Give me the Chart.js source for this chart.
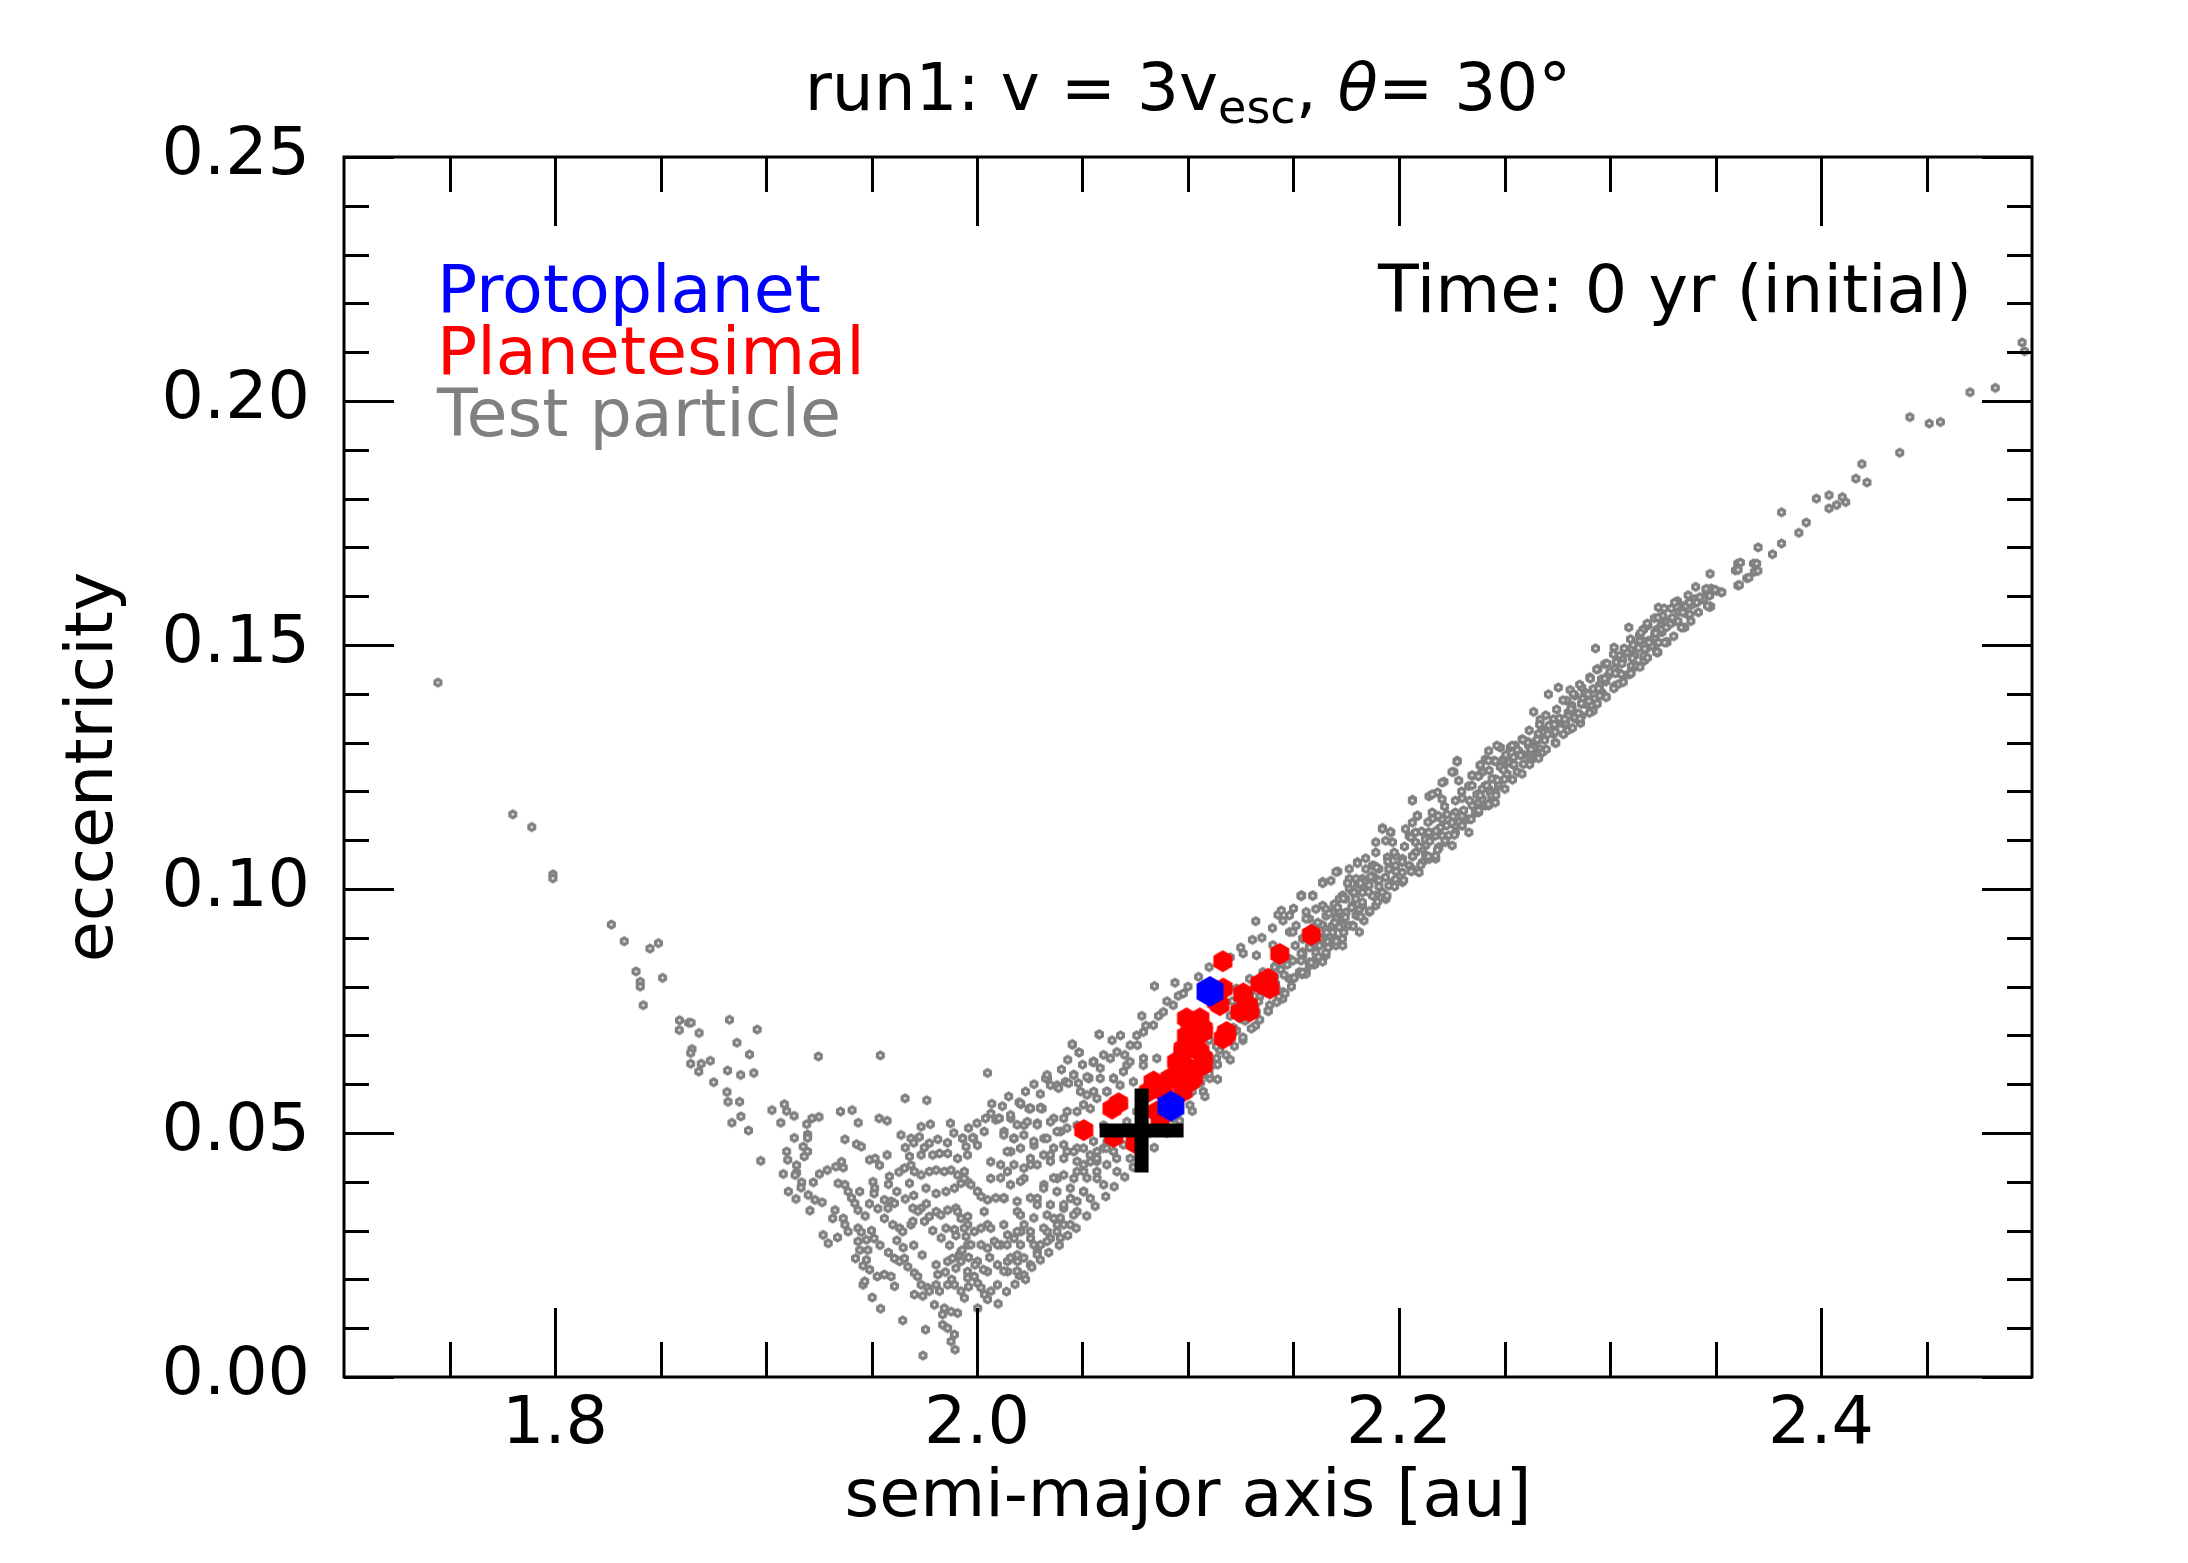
<!DOCTYPE html>
<html>
<head>
<meta charset="utf-8">
<script src="https://cdn.jsdelivr.net/npm/chart.js@4.4.1/dist/chart.umd.min.js"></script>
<style>
  html, body { margin: 0; padding: 0; background: #fff; }
  canvas { display: block; }
</style>
</head>
<body>
<canvas id="orbitChart" width="2188" height="1563"></canvas>
<script>
// semi-major axis [au], eccentricity
const testParticles = [
  [1.7445,0.1423],[1.7800,0.1153],[1.7890,0.1127],[1.7990,0.1030],[1.7990,0.1022],[1.8267,0.0927],[1.8328,0.0893],
  [1.8450,0.0878],[1.8490,0.0889],[1.8384,0.0831],[1.8404,0.0810],[1.8404,0.0800],[1.8510,0.0818],[1.8418,0.0762],
  [1.8590,0.0731],[1.8633,0.0726],[1.8645,0.0726],[1.8589,0.0711],[1.8683,0.0705],[1.8827,0.0732],[1.8958,0.0712],
  [1.8862,0.0685],[1.8649,0.0672],[1.8643,0.0664],[1.8922,0.0661],[1.9248,0.0657],[1.9542,0.0659],[1.8643,0.0642],
  [1.8693,0.0642],[1.8736,0.0648],[1.8681,0.0626],[1.8818,0.0628],[1.8880,0.0619],[1.8942,0.0623],[1.8752,0.0604],
  [1.8815,0.0584],[1.8820,0.0564],[1.8875,0.0564],[1.9028,0.0547],[1.9087,0.0559],[1.9098,0.0545],[1.9133,0.0535],
  [1.8838,0.0521],[1.8881,0.0534],[1.9070,0.0521],[1.9193,0.0518],[1.9218,0.0530],[1.9251,0.0533],[1.9353,0.0544],
  [1.9408,0.0547],[1.9437,0.0521],[1.9536,0.0530],[1.9574,0.0525],
  [2.0050,0.0623],[1.8917,0.0505],[1.8975,0.0443],[1.9197,0.0497],[1.9197,0.0490],[1.9134,0.0490],[1.9176,0.0472],
  [1.9197,0.0462],[1.9181,0.0452],[1.9098,0.0462],[1.9103,0.0445],[1.9145,0.0434],[1.9145,0.0419],[1.9138,0.0414],
  [1.9082,0.0416],[1.9253,0.0416],[1.9290,0.0424],[1.9331,0.0431],[1.9366,0.0429],[1.9358,0.0441],[1.9224,0.0399],
  [1.9169,0.0399],[1.9166,0.0388],[1.9106,0.0380],[1.9142,0.0365],[1.9200,0.0373],[1.9232,0.0363],[1.9266,0.0358],
  [1.9208,0.0341],[1.9342,0.0397],[1.9374,0.0394],[1.9389,0.0380],[1.9405,0.0367],[1.9421,0.0356],[1.9436,0.0342],
  [1.9444,0.0380],[1.9327,0.0342],[1.9316,0.0325],[1.9366,0.0325],[1.9374,0.0312],[1.9389,0.0298],[1.9436,0.0305],
  [1.9452,0.0297],[1.9271,0.0291],[1.9295,0.0274],[1.9339,0.0286],[1.9436,0.0278],[1.9476,0.0281],[1.9512,0.0284],
  [1.9444,0.0260],[1.9483,0.0260],[1.9424,0.0243],[1.9460,0.0228],[1.9374,0.0487],[1.9429,0.0477],[1.9452,0.0472],
  [1.9491,0.0445],[1.9517,0.0448],[1.9538,0.0434],[1.9574,0.0455],[1.9585,0.0411],[1.9507,0.0400],[1.9515,0.0387],
  [1.9512,0.0376],[1.9561,0.0363],[1.9578,0.0346],[1.9561,0.0325],[1.9593,0.0360],[1.9609,0.0356],[1.9601,0.0312],
  [1.9633,0.0305],[1.9648,0.0298],[1.9687,0.0312],[1.9696,0.0319],[1.9476,0.0240],[1.9491,0.0220],[1.9527,0.0206],
  [1.9561,0.0210],[1.9593,0.0206],[1.9609,0.0186],[1.9460,0.0189],[1.9468,0.0196],[1.9503,0.0163],[1.9543,0.0140],
  [1.9648,0.0116],[1.9609,0.0243],[1.9633,0.0237],[1.9656,0.0243],[1.9672,0.0226],[1.9703,0.0213],[1.9719,0.0206],
  [1.9735,0.0189],[1.9766,0.0183],[1.9774,0.0176],[1.9703,0.0169],[1.9743,0.0166],[1.9756,0.0097],[1.9744,0.0044],
  [1.9798,0.0148],[1.9845,0.0141],[1.9837,0.0128],[1.9877,0.0134],[1.9908,0.0131],[1.9837,0.0107],[1.9861,0.0100],
  [1.9893,0.0087],[1.9877,0.0073],[1.9896,0.0056],[1.9806,0.0230],[1.9814,0.0210],[1.9806,0.0189],[1.9822,0.0176],
  [1.9861,0.0189],[1.9893,0.0189],[1.9924,0.0176],[1.9940,0.0162],[1.9861,0.0237],[1.9884,0.0243],[1.9916,0.0250],
  [1.9924,0.0237],[1.9900,0.0223],[1.9956,0.0203],[1.9987,0.0206],[2.0003,0.0192],[2.0019,0.0183],[2.0035,0.0169],
  [2.0050,0.0159],[2.0003,0.0141],[2.0066,0.0176],[2.0097,0.0189],[1.9948,0.0288],[1.9956,0.0271],[1.9987,0.0298],
  [2.0019,0.0305],[2.0050,0.0312],[2.0019,0.0271],[2.0050,0.0264],[2.0082,0.0278],[2.0113,0.0271],[2.0145,0.0291],
  [2.0176,0.0284],[2.0208,0.0298],[2.0160,0.0243],[2.0192,0.0237],[2.0145,0.0216],[2.0200,0.0208],[1.9656,0.0428],
  [1.9687,0.0434],[1.9703,0.0421],[1.9735,0.0414],[1.9774,0.0421],[1.9806,0.0424],[1.9845,0.0421],[1.9877,0.0424],
  [1.9908,0.0414],[1.9940,0.0421],[1.9956,0.0400],[1.9680,0.0452],[1.9735,0.0455],[1.9790,0.0455],[1.9822,0.0458],
  [1.9861,0.0458],[1.9908,0.0448],[1.9640,0.0496],[1.9687,0.0489],[1.9727,0.0492],[1.9774,0.0479],[1.9814,0.0487],
  [1.9735,0.0513],[1.9779,0.0518],[1.9874,0.0520],[1.9932,0.0489],[1.9948,0.0472],[1.9984,0.0490],[1.9659,0.0571],
  [1.9762,0.0567],[1.9680,0.0397],[1.9758,0.0387],[1.9806,0.0376],[1.9853,0.0380],[1.9893,0.0387],[1.9924,0.0397],
  [1.9971,0.0394],[2.0003,0.0380],[2.0019,0.0370],[2.0050,0.0363],[2.0089,0.0367],[1.9696,0.0346],[1.9735,0.0346],
  [1.9751,0.0319],[1.9774,0.0329],[1.9806,0.0339],[1.9829,0.0332],[1.9861,0.0342],[1.9900,0.0346],[1.9924,0.0325],
  [1.9956,0.0329],[1.9853,0.0305],[1.9893,0.0302],[1.9956,0.0312],[2.0066,0.0540],[2.0089,0.0527],[2.0160,0.0530],
  [2.0208,0.0559],[2.0252,0.0550],[2.0302,0.0552],[2.0334,0.0612],[2.0381,0.0595],[2.0452,0.0681],[2.0483,0.0665],
  [2.0578,0.0702],[2.0554,0.0646],[2.0530,0.0612],
  [2.0451,0.0682],[2.0485,0.0665],[2.0580,0.0702],[2.0550,0.0645],[2.0781,0.0740],[2.0841,0.0801],
  [2.0938,0.0808],[2.1321,0.0934],[2.1426,0.0947],[2.1539,0.0987],[2.1638,0.1014],[2.0954,0.0781],[2.1305,0.0896],
  [2.1261,0.0868],[1.9932,0.0489],[1.9979,0.0490],[2.0105,0.0530],[2.0199,0.0563],[2.0246,0.0550],[2.0309,0.0550],
  [2.0325,0.0612],[2.0380,0.0598],[2.0419,0.0605],[2.0459,0.0619],[2.0529,0.0613],[2.0223,0.0516],[2.0286,0.0520],
  [2.0364,0.0530],[2.0427,0.0544],[2.0490,0.0585],[2.0553,0.0585],[2.0584,0.0612],[2.0632,0.0653],[2.0663,0.0666],
  [2.0726,0.0680],[2.0757,0.0700],[2.0789,0.0707],[2.0836,0.0721],[2.0883,0.0748],[2.0930,0.0762],[2.0978,0.0786],
  [2.0852,0.0653],[2.0789,0.0653],[2.0710,0.0639],[2.0647,0.0612],[2.0616,0.0585],[2.0537,0.0550],[2.0474,0.0516],
  [2.0396,0.0503],[2.0317,0.0489],[2.0270,0.0475],[2.0175,0.0489],[2.0128,0.0503],[2.0002,0.0475],[1.9955,0.0455],
  [2.0034,0.0503],[1.9908,0.0339],[1.9939,0.0305],[1.9971,0.0271],[2.0002,0.0237],[1.9955,0.0216],[2.0034,0.0339],
  [2.0065,0.0305],[2.0097,0.0271],[2.0144,0.0237],[2.0191,0.0216],[2.0128,0.0366],[2.0191,0.0339],[2.0223,0.0312],
  [2.0254,0.0284],[2.0301,0.0271],[2.0333,0.0298],[2.0364,0.0325],[2.0411,0.0346],[2.0443,0.0366],[2.0286,0.0366],
  [2.0317,0.0394],[2.0380,0.0407],[2.0459,0.0407],[2.0506,0.0421],[2.0537,0.0441],[2.0569,0.0462],[2.0616,0.0482],
  [2.0663,0.0503],[2.0710,0.0523],[2.0757,0.0544],[2.0506,0.0380],[2.0569,0.0407],[2.0223,0.0407],[2.0144,0.0421],
  [2.0065,0.0407],[2.0002,0.0380],[1.9939,0.0407],[2.0065,0.0441],[2.0160,0.0462],[2.0254,0.0435],[2.0348,0.0455],
  [2.0427,0.0462],[2.0474,0.0469],[2.0600,0.0516],[2.0632,0.0544],[2.0694,0.0557],[1.9924,0.0257],[2.0050,0.0216],
  [2.0097,0.0230],[2.0191,0.0250],[2.0380,0.0312],[2.0223,0.0209],
  [2.1166,0.0775],[2.1229,0.0796],[2.1292,0.0816],[2.1355,0.0830],[2.1418,0.0844],[2.1481,0.0857],[2.1544,0.0871],
  [2.1607,0.0885],[2.1670,0.0905],[2.1733,0.0926],[2.1796,0.0946],[2.1560,0.0953],[2.1638,0.0966],[2.1717,0.0980],
  [2.1764,0.1001],[2.1481,0.0912],[2.1402,0.0885],[2.1324,0.0864],[2.1638,0.0926],[2.1717,0.0953],[2.1481,0.0816],
  [2.1560,0.0830],[2.1638,0.0851],[2.1245,0.0735],[2.1166,0.0707],[2.1135,0.0653],[2.1103,0.0612],[2.1072,0.0585],
  [2.1009,0.0557],[2.0930,0.0530],[2.0852,0.0503],[2.0789,0.0475],[2.0726,0.0448],[2.0663,0.0421],[2.0600,0.0394],
  [2.0537,0.0366],[2.0474,0.0339],[2.0411,0.0312],[2.0348,0.0284],[2.0286,0.0257],[2.1796,0.1021],[2.1387,0.0762],
  [2.1324,0.0748],[2.1450,0.0789],
  [2.2276,0.1263],[2.2260,0.1240],[2.2213,0.1220],[2.2347,0.1232],[2.2064,0.1183],[2.2142,0.1190],[2.2182,0.1198],
  [2.2088,0.1150],[2.2159,0.1144],[2.2189,0.1086],[2.2111,0.1055],[2.1922,0.1125],[2.1961,0.1116],[2.1710,0.1036],
  [2.1639,0.1014],[2.1536,0.0986],[2.1442,0.0956],[2.1803,0.1055],[2.1843,0.1041],[2.1874,0.1048],[2.1827,0.1021],
  [2.2142,0.1116],[2.2236,0.1110],[2.2268,0.1130],[2.2315,0.1144],[2.2362,0.1157],[2.2394,0.1171],[2.2441,0.1185],
  [2.1497,0.0912],[2.1575,0.0939],[2.1654,0.0959],[2.1733,0.0987],[2.1780,0.0994],[2.1827,0.1007],[2.1890,0.1021],
  [2.1953,0.1041],[2.2016,0.1062],[2.2079,0.1075],[2.2126,0.1089],[2.2205,0.1109],[2.2284,0.1137],[2.2362,0.1171],
  [2.1575,0.0884],[2.1654,0.0912],[2.1733,0.0939],[2.1812,0.0959],[2.1890,0.0987],[2.1969,0.1014],[2.2048,0.1048],
  [2.2126,0.1069],[2.1465,0.0850],[2.1544,0.0864],[2.1623,0.0884],[2.1701,0.0898],[2.1780,0.0925],[2.1859,0.0953],
  [2.1937,0.0980],[2.2016,0.1014],[2.2095,0.1034],[2.2174,0.1062],[2.2252,0.1089],[2.2331,0.1116],[2.1497,0.0816],
  [2.1575,0.0843],[2.1654,0.0864],[2.1418,0.0796],[2.1733,0.0884],[2.1812,0.0912],[2.1449,0.0775],[2.1528,0.0830],
  [2.1607,0.0857],[2.1686,0.0953],[2.1764,0.1021],[2.1890,0.1075],[2.1969,0.1096],[2.2048,0.1109],[2.2425,0.1205],
  [2.2457,0.1225],[2.2394,0.1239],[2.2520,0.1260],[2.2551,0.1294],[2.2614,0.1294],[2.2677,0.1328],[2.1481,0.0946],
  [2.1591,0.0987],
  [2.2378,0.1233],[2.2409,0.1212],[2.2441,0.1226],[2.2393,0.1185],[2.2425,0.1171],[2.2456,0.1199],[2.2362,0.1158],
  [2.2802,0.1362],[2.2834,0.1349],[2.2897,0.1383],[2.2928,0.1390],[2.2960,0.1403],[2.3038,0.1444],[2.3070,0.1437],
  [2.3101,0.1492],[2.3211,0.1519],[2.3243,0.1540],[2.3400,0.1594],[2.3447,0.1598],
  [2.3605,0.1667],[2.3680,0.1667],[2.3594,0.1653],[2.3684,0.1650],[2.3648,0.1637],[2.3606,0.1622],
  [2.3456,0.1613],[2.3480,0.1616],[2.3503,0.1611],[2.3527,0.1608],[2.3472,0.1601],[2.3440,0.1594],[2.3417,0.1590],
  [2.3472,0.1578],[2.3377,0.1587],[2.3349,0.1580],[2.3325,0.1568],[2.3365,0.1563],[2.3341,0.1573],
  [2.3089,0.1536],[2.3159,0.1532],[2.3222,0.1532],[2.3269,0.1549],[2.3309,0.1549],[2.3343,0.1536],[2.3246,0.1526],
  [2.3269,0.1506],[2.3214,0.1515],[2.3182,0.1509],[2.3148,0.1510],[2.3170,0.1492],[2.3227,0.1485],[2.3199,0.1498],
  [2.2931,0.1493],[2.3019,0.1495],[2.3101,0.1492],[2.3117,0.1478],[2.3046,0.1478],[2.3054,0.1464],[2.3101,0.1457],
  [2.3125,0.1457],[2.3161,0.1468],[2.2975,0.1461],[2.2943,0.1451],[2.3022,0.1451],[2.3054,0.1440],[2.3093,0.1440],
  [2.3022,0.1416],[2.2904,0.1434],[2.2959,0.1430],[2.2991,0.1437],
  [2.2708,0.1399],[2.2755,0.1413],[2.2811,0.1408],[2.2834,0.1396],[2.2881,0.1403],[2.2866,0.1413],[2.2795,0.1386],
  [2.2819,0.1376],[2.2866,0.1379],[2.2897,0.1376],[2.2937,0.1379],[2.2952,0.1406],[2.2952,0.1396],
  [2.2638,0.1363],[2.2669,0.1347],[2.2732,0.1348],[2.2740,0.1335],[2.2779,0.1338],[2.2802,0.1355],[2.2834,0.1352],
  [2.2866,0.1355],[2.2819,0.1365],[2.2913,0.1376],
  [2.2583,0.1307],[2.2614,0.1301],[2.2653,0.1304],[2.2684,0.1321],[2.2732,0.1318],[2.2669,0.1287],[2.2622,0.1280],
  [2.2566,0.1283],[2.2527,0.1290],[2.2480,0.1290],[2.2464,0.1294],[2.2425,0.1283],[2.2409,0.1266],[2.2385,0.1253],
  [2.2448,0.1263],[2.2495,0.1266],[2.2543,0.1270],[2.2590,0.1256],[2.2630,0.1266],[2.2661,0.1277],[2.2511,0.1236],
  [2.2472,0.1212],[2.2433,0.1198],[2.2394,0.1205],[2.2378,0.1178],
  [2.4953,0.2120],[2.4965,0.2102],[2.4826,0.2027],[2.4706,0.2018],[2.4421,0.1967],[2.4513,0.1954],[2.4566,0.1957],
  [2.4373,0.1894],[2.4194,0.1871],[2.4165,0.1841],[2.4218,0.1833],[2.3978,0.1800],[2.4038,0.1807],[2.4038,0.1780],
  [2.4074,0.1787],[2.4101,0.1803],[2.4117,0.1793],[2.3813,0.1772],[2.3930,0.1751],[2.3895,0.1730],[2.3813,0.1708],
  [2.3770,0.1686],[2.3702,0.1700],[2.3618,0.1669],[2.3607,0.1654],[2.3695,0.1667],[2.3701,0.1652],[2.3658,0.1638],
  [2.3613,0.1623],[2.3474,0.1646],[2.3406,0.1619],[2.3461,0.1614],[2.3498,0.1613],[2.3530,0.1608],[2.3477,0.1579],
  [2.3442,0.1594],[2.3410,0.1587],[2.3386,0.1582],[2.3359,0.1580],[2.3346,0.1568],[2.3378,0.1563],[2.3322,0.1549],
  [2.3354,0.1536],[2.3229,0.1577],[2.3269,0.1547],[2.3285,0.1543],[2.3245,0.1532],[2.3213,0.1526],[2.3269,0.1506],
  [2.3157,0.1532],[2.3141,0.1509],[2.3165,0.1492],[2.3221,0.1485],[2.3162,0.1468],[2.3125,0.1457],
  [2.2275,0.1261],[2.2385,0.1254],[2.2424,0.1263],[2.2495,0.1252],[2.2511,0.1235],[2.2251,0.1240],[2.2346,0.1233],
  [2.2204,0.1218],[2.2283,0.1222],[2.2330,0.1211],[2.2472,0.1215],[2.2063,0.1181],[2.2157,0.1194],[2.2204,0.1184],
  [2.2299,0.1186],[2.2369,0.1194],[2.2440,0.1191],[2.1921,0.1123],[2.1960,0.1117],[2.2086,0.1150],[2.2157,0.1157],
  [2.2196,0.1126],[2.2228,0.1153],[2.2267,0.1157],[2.2141,0.1116],[2.2173,0.1109],[2.2188,0.1085],[2.2031,0.1123],
  [2.2063,0.1136],[2.1701,0.1035],[2.1764,0.1041],[2.1803,0.1053],[2.1842,0.1063],[2.1882,0.1048],[2.1638,0.1012],
  [2.1677,0.1017],[2.1756,0.1012],[2.1803,0.1010],[2.1834,0.1015],[2.1858,0.1008],[2.1536,0.0986],[2.1591,0.0986],
  [2.1693,0.0969],[2.1748,0.0952],[2.1834,0.0935],[2.1905,0.1017],[2.1945,0.1065],[2.1984,0.1068],[2.1890,0.1096],
  [2.1937,0.1099],[2.1536,0.0853],[2.1559,0.0826],[2.1661,0.0892],[2.1685,0.0911],[2.1716,0.0922],
  [2.1606,0.0959],[2.1654,0.0945],[2.1559,0.0939],[2.1606,0.0925],[2.1654,0.0918],[2.1701,0.0939],[2.1748,0.0980],
  [2.1795,0.0980],[2.1827,0.0966],[2.1874,0.0986],[2.1921,0.0993],[2.1952,0.1007],[2.1984,0.1020],[2.2015,0.1034],
  [2.1952,0.1041],[2.1905,0.1041],[2.2015,0.1055],[2.2063,0.1068],[2.2110,0.1082],[2.2078,0.1096],[2.2125,0.1102],
  [2.2173,0.1068],[2.2141,0.1061],[2.2063,0.1041],[2.2220,0.1096],[2.2267,0.1116],[2.2299,0.1130],[2.2330,0.1143],
  [2.2377,0.1157],[2.2409,0.1171],[2.2456,0.1177],[2.2251,0.1136],[2.2299,0.1150],[2.2346,0.1171],[2.2393,0.1184],
  [2.2204,0.1143],[2.2078,0.1116],[2.1984,0.1048],[2.1874,0.1027],[2.1827,0.0993],[2.1779,0.0966],[2.1732,0.0945],
  [2.1685,0.0925],[2.1638,0.0898],[2.1606,0.0870],[2.1575,0.0850],[2.1764,0.0925],[2.1811,0.0945],[2.1890,0.0966],
  [2.1937,0.0980],[2.1732,0.0898],[2.1701,0.0884],[2.1654,0.0870],[2.1543,0.0898],[2.1512,0.0925],
  [2.0332,0.0619],[2.0348,0.0598],[2.0387,0.0592],[2.0434,0.0602],[2.0458,0.0619],[2.0481,0.0602],[2.0521,0.0615],
  [2.0552,0.0646],[2.0584,0.0633],[2.0568,0.0571],[2.0521,0.0578],[2.0300,0.0551],[2.0253,0.0551],[2.0206,0.0561],
  [2.0104,0.0530],[2.0159,0.0537],[2.0190,0.0517],[2.0238,0.0523],[2.0285,0.0517],[2.0348,0.0523],[2.0411,0.0530],
  [2.0474,0.0544],[2.0505,0.0558],[2.0615,0.0585],[2.0647,0.0612],[2.0694,0.0626],[2.0725,0.0646],[2.0788,0.0639],
  [2.0741,0.0605],[2.0678,0.0598],[2.0127,0.0496],[2.0175,0.0489],[2.0222,0.0496],[2.0269,0.0483],[2.0332,0.0489],
  [2.0379,0.0503],[2.0426,0.0510],[2.0143,0.0462],[2.0206,0.0469],[2.0253,0.0448],[2.0316,0.0455],[2.0363,0.0469],
  [2.0411,0.0476],[2.0458,0.0462],[2.0505,0.0469],[2.0552,0.0483],[2.0599,0.0469],[2.0647,0.0462],[2.0694,0.0476],
  [2.0112,0.0435],[2.0175,0.0435],[2.0222,0.0428],[2.0285,0.0435],[2.0348,0.0442],[2.0411,0.0448],[2.0474,0.0442],
  [2.0536,0.0455],[2.0568,0.0442],
  [2.0112,0.0408],[2.0159,0.0394],[2.0206,0.0401],[2.0127,0.0367],[2.0190,0.0360],[2.0253,0.0367],[2.0316,0.0387],
  [2.0363,0.0408],[2.0411,0.0414],[2.0474,0.0421],[2.0521,0.0408],[2.0568,0.0421],[2.0615,0.0435],[2.0662,0.0448],
  [2.0379,0.0380],[2.0442,0.0387],[2.0505,0.0380],[2.0285,0.0353],[2.0348,0.0353],[2.0411,0.0353],[2.0474,0.0360],
  [2.0206,0.0332],[2.0269,0.0326],[2.0332,0.0332],[2.0395,0.0326],[2.0458,0.0332],[2.0127,0.0312],[2.0190,0.0298],
  [2.0253,0.0298],[2.0316,0.0305],[2.0379,0.0298],[2.0442,0.0312],[2.0143,0.0271],[2.0206,0.0271],[2.0269,0.0271],
  [2.0332,0.0278],[2.0395,0.0285],[2.0159,0.0244],[2.0222,0.0244],[2.0285,0.0251],[2.0127,0.0217],[2.0190,0.0217],
  [2.0253,0.0230],[2.0505,0.0435],[2.0568,0.0448],[2.0615,0.0469],
  [2.2480,0.1250],[2.2510,0.1270],[2.2540,0.1255],[2.2560,0.1285],[2.2590,0.1275],[2.2610,0.1300],[2.2640,0.1290],
  [2.2660,0.1318],[2.2690,0.1305],[2.2710,0.1335],[2.2740,0.1322],[2.2760,0.1350],[2.2790,0.1340],[2.2820,0.1368],
  [2.2850,0.1360],[2.2870,0.1390],[2.2900,0.1385],[2.2920,0.1410],[2.2950,0.1418],[2.2980,0.1425],[2.3000,0.1445],
  [2.3030,0.1465],[2.3060,0.1470],[2.3080,0.1485],[2.3110,0.1500],[2.3140,0.1520],[2.3180,0.1540],[2.3210,0.1555],
  [2.3250,0.1560],[2.3290,0.1575],[2.3320,0.1590],[2.3370,0.1602],
  [2.2500,0.1225],[2.2560,0.1240],[2.2620,0.1262],[2.2680,0.1280],[2.2740,0.1300],[2.2800,0.1325],[2.2860,0.1340],
  [2.2920,0.1365],[2.2980,0.1395],[2.3040,0.1420],[2.3100,0.1445],[2.3160,0.1478],[2.3230,0.1505],
  [2.0880,0.0520],[2.0920,0.0545],[2.0960,0.0560],[2.1000,0.0580],[2.1040,0.0600],[2.1080,0.0620],[2.1120,0.0640],
  [2.1150,0.0670],[2.1190,0.0690],[2.1230,0.0710],[2.1270,0.0730],[2.1300,0.0760],[2.1340,0.0780],[2.1370,0.0800],
  [2.1410,0.0820],[2.1440,0.0835],[2.1470,0.0845],[2.1200,0.0740],[2.1250,0.0765],[2.1300,0.0790],[2.1350,0.0815],
  [2.1100,0.0690],[2.1050,0.0650],[2.1000,0.0620],[2.0950,0.0590],[2.0820,0.0500],[2.0790,0.0450],[2.0840,0.0470],
  [2.0900,0.0500],[2.0960,0.0525],[2.1020,0.0545],[2.1080,0.0575],[2.1140,0.0610],[2.1200,0.0650],[2.1260,0.0690],
  [2.1320,0.0720],[2.1380,0.0750],[2.1430,0.0780],[2.1490,0.0800],[2.1540,0.0825],[2.1600,0.0845],
  [2.0100,0.0150],[2.0140,0.0175],[2.0180,0.0190],[2.0230,0.0200],[2.0260,0.0225],[2.0300,0.0240],[2.0340,0.0255],
  [2.0390,0.0270],[2.0430,0.0290],[2.0470,0.0305],[2.0520,0.0330],[2.0560,0.0350],[2.0610,0.0370],[2.0650,0.0390],
  [2.0700,0.0410],[2.0740,0.0430],
  // solid core of the band, read as filled area
  [2.1503,0.0818],[2.1497,0.0853],[2.1508,0.0884],[2.1542,0.0829],[2.1536,0.0868],[2.1545,0.0899],
  [2.1584,0.0849],[2.1577,0.0880],[2.1589,0.0919],[2.1618,0.0861],[2.1626,0.0899],[2.1615,0.0931],
  [2.1664,0.0880],[2.1657,0.0911],[2.1668,0.0950],[2.1702,0.0893],[2.1695,0.0931],[2.1709,0.0962],
  [2.1738,0.0911],[2.1745,0.0942],[2.1736,0.0981],[2.1783,0.0924],[2.1776,0.0962],[2.1787,0.0993],
  [2.1819,0.0943],[2.1826,0.0973],[2.1817,0.1012],[2.1862,0.0955],[2.1855,0.0994],[2.1866,0.1025],
  [2.1898,0.0974],[2.1905,0.1005],[2.1894,0.1044],[2.1943,0.0986],[2.1936,0.1024],[2.1947,0.1056],
  [2.1979,0.1005],[2.1986,0.1036],[2.1977,0.1075],[2.2022,0.1018],[2.2015,0.1056],[2.2026,0.1087],
  [2.2058,0.1036],[2.2065,0.1067],[2.2056,0.1106],[2.2103,0.1049],[2.2096,0.1087],[2.2107,0.1118],
  [2.2139,0.1067],[2.2146,0.1098],[2.2137,0.1137],[2.2182,0.1080],[2.2175,0.1119],[2.2186,0.1150],
  [2.2218,0.1099],[2.2225,0.1130],[2.2216,0.1169],[2.2263,0.1111],[2.2256,0.1149],[2.2267,0.1181],
  [2.2299,0.1130],[2.2306,0.1161],[2.2297,0.1200],[2.2342,0.1143],[2.2335,0.1181],[2.2346,0.1212],
  [2.2378,0.1161],[2.2385,0.1192],[2.2376,0.1231],[2.2423,0.1174],[2.2416,0.1212],[2.2427,0.1243],
  [2.2459,0.1192],[2.2466,0.1223],[2.2457,0.1262],[2.2502,0.1205],[2.2495,0.1244],[2.2506,0.1275],
  [2.2538,0.1224],[2.2545,0.1255],[2.2536,0.1294],[2.2583,0.1236],[2.2576,0.1274],[2.2587,0.1306],
  [2.2619,0.1255],[2.2626,0.1286],[2.2617,0.1325],[2.2662,0.1268],[2.2655,0.1306],[2.2666,0.1337],
  [2.2698,0.1286],[2.2705,0.1317],[2.2696,0.1356],[2.2743,0.1299],[2.2736,0.1337],[2.2747,0.1368],
  [2.2779,0.1317],[2.2786,0.1348],[2.2777,0.1387],[2.2822,0.1330],[2.2815,0.1369],[2.2826,0.1400],
  [2.2858,0.1349],[2.2865,0.1380],[2.2856,0.1419],[2.2903,0.1361],[2.2896,0.1399],[2.2907,0.1431],
  [2.2939,0.1380],[2.2946,0.1411],[2.2937,0.1450],[2.2982,0.1393],[2.2975,0.1431],[2.2986,0.1462],
  [2.3018,0.1411],[2.3025,0.1442],[2.3016,0.1481],[2.3063,0.1424],[2.3056,0.1462],[2.3067,0.1493],
  [2.3099,0.1442],[2.3106,0.1473],[2.3097,0.1512],[2.3142,0.1455],[2.3135,0.1494],[2.3146,0.1525],
  [2.3178,0.1474],[2.3185,0.1505],[2.3176,0.1544],[2.3223,0.1486],[2.3216,0.1524],[2.3227,0.1556],
  [2.3259,0.1505],[2.3266,0.1536],[2.3257,0.1575],[2.3302,0.1518],[2.3295,0.1556],[2.3306,0.1587],
  [2.3338,0.1536],[2.3345,0.1567],[2.3383,0.1549],[2.3376,0.1587],[2.3419,0.1567],[2.3426,0.1598],
  [2.3462,0.1580],[2.3455,0.1615],
  [2.1020,0.0585],[2.1015,0.0620],[2.1060,0.0603],[2.1055,0.0640],[2.1100,0.0622],[2.1095,0.0660],
  [2.1140,0.0640],[2.1135,0.0678],[2.1180,0.0660],[2.1175,0.0698],[2.1220,0.0678],[2.1215,0.0716],
  [2.1260,0.0696],[2.1255,0.0735],[2.1300,0.0714],[2.1295,0.0752],[2.1340,0.0732],[2.1335,0.0770],
  [2.1380,0.0750],[2.1375,0.0788],[2.1420,0.0768],[2.1415,0.0806],[2.1460,0.0786],[2.1455,0.0824],
  [2.1330,0.0800],[2.1290,0.0780],[2.1410,0.0840],[2.1450,0.0860],[2.1250,0.0790],[2.1210,0.0770],
  [1.9580,0.0395],[1.9620,0.0380],[1.9660,0.0365],[1.9700,0.0372],[1.9720,0.0340],[1.9760,0.0355],[1.9790,0.0300],
  [1.9830,0.0285],[1.9870,0.0270],[1.9900,0.0290],[1.9930,0.0260],[1.9960,0.0245],[1.9990,0.0230],[2.0030,0.0220],
  [2.0060,0.0245],[1.9850,0.0215],[1.9880,0.0200],[1.9960,0.0185],[1.9700,0.0270],[1.9740,0.0250],[1.9650,0.0265],
  [1.9620,0.0280],[1.9580,0.0255],[1.9540,0.0270],[1.9500,0.0300],[1.9470,0.0330],[1.9490,0.0355],[1.9530,0.0345],
  [1.9630,0.0420],[1.9660,0.0470],[1.9700,0.0480],[1.9750,0.0470],[1.9860,0.0480],[1.9890,0.0500],[1.9960,0.0510],
  [2.0000,0.0520],[2.0040,0.0530],[2.0070,0.0560],[2.0120,0.0555],[2.0150,0.0575],[2.0230,0.0585],[2.0270,0.0600],
  [2.0300,0.0580],[2.0400,0.0630],[2.0430,0.0650],[2.0500,0.0640],[2.0600,0.0660],[2.0640,0.0690],[2.0680,0.0700],
  [2.0700,0.0660],[2.0760,0.0680],[2.0800,0.0720],[2.0860,0.0740],[2.0900,0.0770],[2.1000,0.0800],[2.1050,0.0820],
  [2.1100,0.0840],[2.1200,0.0860],[2.1250,0.0880],[2.1350,0.0900],[2.1400,0.0920],[2.1450,0.0935],[2.1500,0.0960]
];
const planetesimals = [
  [2.1585,0.0906],[2.1435,0.0867],[2.1165,0.0852],[2.1341,0.0806],[2.1388,0.0796],[2.1380,0.0816],[2.1262,0.0786],
  [2.1286,0.0762],[2.1246,0.0748],[2.1167,0.0796],[2.1151,0.0762],[2.1183,0.0707],[2.1167,0.0694],[2.1009,0.0728],
  [2.1056,0.0735],[2.1072,0.0707],[2.0993,0.0700],[2.0977,0.0666],[2.1040,0.0673],[2.1072,0.0653],[2.0962,0.0639],
  [2.1009,0.0632],[2.0947,0.0612],[2.1009,0.0605],[2.0837,0.0605],[2.0884,0.0585],[2.0977,0.0585],[2.0813,0.0585],
  [2.0852,0.0544],[2.0868,0.0530],[2.0671,0.0561],[2.0640,0.0550],[2.0506,0.0506],[2.0648,0.0492],[2.0750,0.0479],
  [2.0993,0.0735],[2.1009,0.0701],[2.0977,0.0673],[2.1072,0.0714],[2.1056,0.0667],[2.1072,0.0639],[2.0977,0.0633],
  [2.0946,0.0646],[2.1025,0.0612],[2.0914,0.0612],[2.0836,0.0605],[2.1135,0.0769],[2.1182,0.0701],[2.1261,0.0783],
  [2.1292,0.0749]
];
const protoplanets = [[2.1104,0.0790],[2.0919,0.0555]];
const impactPoint = [[2.078,0.0505]];

const xTickLabels = [1.8, 2.0, 2.2, 2.4];
const xMinorTicks = [1.75, 1.85, 1.9, 1.95, 2.05, 2.1, 2.15, 2.25, 2.3, 2.35, 2.45];
const yTickLabels = [0, 0.05, 0.10, 0.15, 0.20, 0.25];
const yMinorTicks = [0.01, 0.02, 0.03, 0.04, 0.06, 0.07, 0.08, 0.09, 0.11, 0.12, 0.13, 0.14,
                     0.16, 0.17, 0.18, 0.19, 0.21, 0.22, 0.23, 0.24];

const FONT = 'DejaVu Sans';
const FS = 66.7;
const TITLE_FS = 66;

// pointy-top hexagon, like matplotlib's 'h' marker
function hexMarker(r, color, hole) {
    const s = Math.ceil(2 * r + 2);
    const c = document.createElement('canvas');
    c.width = s;
    c.height = s;
    const g = c.getContext('2d');
    const hex = (rad) => {
        g.beginPath();
        for (let k = 0; k < 6; k++) {
            const t = (-90 + 60 * k) * Math.PI / 180;
            g.lineTo(s / 2 + rad * Math.cos(t), s / 2 + rad * Math.sin(t));
        }
        g.closePath();
    };
    hex(r);
    g.fillStyle = color;
    g.fill();
    if (hole) {
        hex(hole);
        g.fillStyle = '#fff';
        g.fill();
    }
    return c;
}

const toXY = (arr) => arr.map(p => ({ x: p[0], y: p[1] }));

const axisFrame = {
    id: 'axisFrame',
    afterDraw(chart) {
        const { ctx, chartArea: { left, right, top, bottom }, scales: { x, y } } = chart;
        ctx.save();
        ctx.strokeStyle = '#000';
        ctx.lineWidth = 3;
        ctx.beginPath();
        const xt = (v, len) => {
            const px = Math.round(x.getPixelForValue(v)) + 0.5;
            ctx.moveTo(px, bottom); ctx.lineTo(px, bottom - len);
            ctx.moveTo(px, top); ctx.lineTo(px, top + len);
        };
        const yt = (v, len) => {
            const py = Math.round(y.getPixelForValue(v)) + 0.5;
            ctx.moveTo(left, py); ctx.lineTo(left + len, py);
            ctx.moveTo(right, py); ctx.lineTo(right - len, py);
        };
        xTickLabels.forEach(v => xt(v, 69));
        xMinorTicks.forEach(v => xt(v, 35));
        yTickLabels.forEach(v => yt(v, 50));
        yMinorTicks.forEach(v => yt(v, 25));
        ctx.stroke();
        ctx.strokeRect(left, top, right - left, bottom - top);

        // title with subscript
        const parts = [
            { t: 'run1: v = 3v', f: `${TITLE_FS}px "${FONT}"`, dy: 0 },
            { t: 'esc', f: `${Math.round(TITLE_FS * 0.7)}px "${FONT}"`, dy: 13 },
            { t: ', ', f: `${TITLE_FS}px "${FONT}"`, dy: 0 },
            { t: 'θ', f: `italic ${TITLE_FS}px "${FONT}"`, dy: 0 },
            { t: '= 30°', f: `${TITLE_FS}px "${FONT}"`, dy: 0 }
        ];
        ctx.fillStyle = '#000';
        ctx.textBaseline = 'alphabetic';
        ctx.textAlign = 'left';
        let total = 0;
        parts.forEach(p => { ctx.font = p.f; p.w = ctx.measureText(p.t).width; total += p.w; });
        let cx = (left + right) / 2 - total / 2;
        parts.forEach(p => { ctx.font = p.f; ctx.fillText(p.t, cx, 110 + p.dy); cx += p.w; });

        // labels inside the axes
        ctx.font = `${FS}px "${FONT}"`;
        ctx.fillStyle = '#0000ff';
        ctx.fillText('Protoplanet', 437, 312);
        ctx.fillStyle = '#ff0000';
        ctx.fillText('Planetesimal', 437, 374);
        ctx.fillStyle = '#808080';
        ctx.fillText('Test particle', 437, 436);
        ctx.fillStyle = '#000';
        ctx.textAlign = 'right';
        ctx.fillText('Time: 0 yr (initial)', 1972, 312);
        ctx.restore();
    }
};

const ctx = document.getElementById('orbitChart').getContext('2d');

new Chart(ctx, {
    type: 'scatter',
    data: {
        datasets: [
            {
                label: 'impact',
                data: toXY(impactPoint),
                pointStyle: 'cross',
                pointRadius: 42,
                borderColor: '#000',
                borderWidth: 14,
                order: 0
            },
            {
                label: 'Protoplanet',
                data: toXY(protoplanets),
                pointStyle: hexMarker(15.5, '#0000ff'),
                pointRadius: 15,
                order: 1
            },
            {
                label: 'Planetesimal',
                data: toXY(planetesimals),
                pointStyle: hexMarker(11, '#ff0000'),
                pointRadius: 11,
                order: 2
            },
            {
                label: 'Test particle',
                data: toXY(testParticles),
                pointStyle: hexMarker(5.2, '#808080', 1.3),
                pointRadius: 5,
                order: 3
            }
        ]
    },
    options: {
        responsive: false,
        animation: false,
        layout: { padding: { top: 157, right: 156, left: 0, bottom: 0 } },
        plugins: {
            legend: { display: false },
            tooltip: { enabled: false },
            title: { display: false }
        },
        scales: {
            x: {
                type: 'linear',
                min: 1.7,
                max: 2.5,
                grid: { display: false, drawTicks: false },
                border: { display: false },
                afterBuildTicks: (scale) => { scale.ticks = xTickLabels.map(v => ({ value: v })); },
                afterFit: (scale) => { scale.height = 186; },
                ticks: {
                    padding: 9,
                    color: '#000',
                    font: { family: FONT, size: FS },
                    callback: (v) => v.toFixed(1),
                    maxRotation: 0
                },
                title: {
                    display: true,
                    text: 'semi-major axis [au]',
                    color: '#000',
                    font: { family: FONT, size: FS },
                    padding: { top: 0, bottom: 24 }
                }
            },
            y: {
                type: 'linear',
                min: 0,
                max: 0.25,
                grid: { display: false, drawTicks: false },
                border: { display: false },
                afterBuildTicks: (scale) => { scale.ticks = yTickLabels.map(v => ({ value: v })); },
                afterFit: (scale) => { scale.width = 344; },
                ticks: {
                    padding: 34,
                    color: '#000',
                    font: { family: FONT, size: FS },
                    callback: (v) => v.toFixed(2)
                },
                title: {
                    display: true,
                    text: 'eccentricity',
                    color: '#000',
                    font: { family: FONT, size: FS },
                    padding: { top: 55, bottom: 0 }
                }
            }
        }
    },
    plugins: [axisFrame]
});
</script>
</body>
</html>
